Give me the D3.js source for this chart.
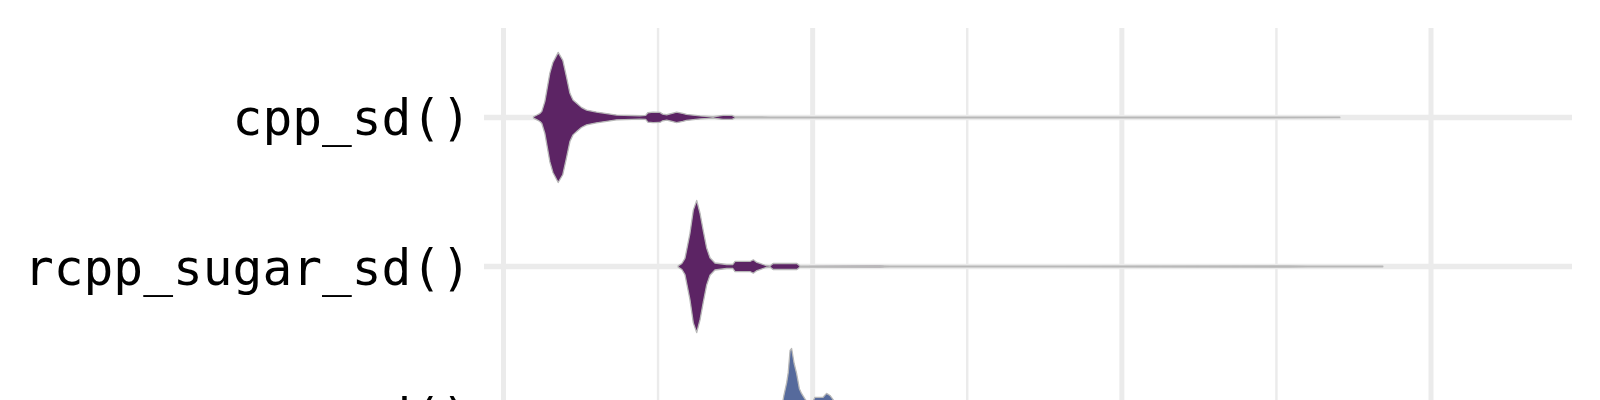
<!DOCTYPE html>
<html>
<head>
<meta charset="utf-8">
<script src="https://cdn.jsdelivr.net/npm/d3@7"></script>
<style>
  html, body { margin: 0; padding: 0; background: #ffffff; }
  svg { display: block; }
</style>
</head>
<body>
<svg id="chart" width="1600" height="400"></svg>
<script>
// ---- Data (time, relative density) ----
const categories = ["cpp_sd()", "rcpp_sugar_sd()", "sd()"];
const fillColors = ["#5c2464", "#5c2464", "#566a9c"];

const cppTime = [0.97, 1.10, 1.18, 1.24, 1.34, 1.50, 1.60, 1.77, 1.92, 2.04, 2.15, 2.25, 2.37, 2.52, 2.69, 3.01, 3.34, 3.66, 4.41, 4.60, 4.67, 4.84, 5.06, 5.15, 5.28, 5.45, 5.60, 5.80, 5.92, 6.36, 6.78, 7.10, 7.39, 7.49, 8.30, 8.62, 12.0, 20.0, 27.05];
const cppDens = [0.01, 0.04, 0.06, 0.09, 0.24, 0.66, 0.82, 0.97, 0.85, 0.60, 0.36, 0.26, 0.21, 0.15, 0.11, 0.08, 0.058, 0.035, 0.025, 0.03, 0.07, 0.078, 0.075, 0.05, 0.04, 0.06, 0.078, 0.06, 0.045, 0.022, 0.010, 0.03, 0.03, 0.008, 0.008, 0.006, 0.005, 0.005, 0.004];

const sugarTime = [5.65, 5.77, 5.87, 6.03, 6.14, 6.25, 6.36, 6.46, 6.57, 6.68, 6.84, 7.22, 7.42, 7.49, 7.97, 8.08, 8.20, 8.30, 8.49, 8.62, 8.72, 9.49, 9.59, 12.18, 12.50, 18.0, 25.44, 26.0, 28.44];
const sugarDens = [0.01, 0.045, 0.12, 0.49, 0.84, 0.985, 0.79, 0.54, 0.28, 0.13, 0.052, 0.03, 0.03, 0.075, 0.075, 0.10, 0.06, 0.045, 0.015, 0.008, 0.045, 0.045, 0.006, 0.010, 0.005, 0.005, 0.008, 0.005, 0.004];

const baseTime = [8.85, 8.97, 9.03, 9.07, 9.16, 9.21, 9.27, 9.32, 9.40, 9.48, 9.57, 9.64, 9.75, 9.85, 9.98, 10.07, 10.33, 10.45, 10.56, 10.72, 10.82, 10.98, 11.14, 11.53, 12.83, 16.06, 32.96];
const baseDens = [0.01, 0.06, 0.2, 0.3, 0.49, 0.64, 0.97, 1.0, 0.78, 0.63, 0.40, 0.33, 0.25, 0.18, 0.18, 0.27, 0.27, 0.33, 0.30, 0.2, 0.15, 0.22, 0.15, 0.1, 0.04, 0.015, 0.004];

const majorBreaks = [0, 10, 20, 30];
const minorBreaks = [5, 15, 25];

const seriesTimes = [cppTime, sugarTime, baseTime];
const seriesDens = [cppDens, sugarDens, baseDens];

// ---- Layout ----
const W = 1600, H = 400;
const panel = { left: 484, right: 1572, top: 28, bottom: 505 };

const svg = d3.select("#chart");
svg.append("rect").attr("width", W).attr("height", H).attr("fill", "#ffffff");

const allTimes = seriesTimes.flat();
const ext = d3.extent(allTimes);
const pad = (ext[1] - ext[0]) * 0.05;
const x = d3.scaleLinear().domain([ext[0] - pad, ext[1] + pad]).range([panel.left, panel.right]);

const y = d3.scalePoint().domain(categories).range([panel.top, panel.bottom]).padding(0.6);
const step = y.step();
const halfW = d3.scaleLinear().domain([0, 1]).range([0, step * 0.45]);

// Grid
const g = svg.append("g");
g.selectAll("line.minor").data(minorBreaks).join("line")
  .attr("x1", d => x(d)).attr("x2", d => x(d))
  .attr("y1", panel.top).attr("y2", panel.bottom)
  .attr("stroke", "#ebebeb").attr("stroke-width", 2.4);
g.selectAll("line.major").data(majorBreaks).join("line")
  .attr("x1", d => x(d)).attr("x2", d => x(d))
  .attr("y1", panel.top).attr("y2", panel.bottom)
  .attr("stroke", "#ebebeb").attr("stroke-width", 5);
g.selectAll("line.hmajor").data(categories).join("line")
  .attr("x1", panel.left).attr("x2", panel.right)
  .attr("y1", d => y(d)).attr("y2", d => y(d))
  .attr("stroke", "#ebebeb").attr("stroke-width", 5.5);

// Violins
categories.forEach((cat, i) => {
  const pts = seriesTimes[i].map((t, j) => ({ t, d: seriesDens[i][j] }));
  const cy = y(cat);
  const area = d3.area()
    .x(p => x(p.t))
    .y0(p => cy + halfW(p.d))
    .y1(p => cy - halfW(p.d))
    .curve(d3.curveLinear);
  svg.append("path")
    .datum(pts)
    .attr("d", area)
    .attr("fill", fillColors[i])
    .attr("stroke", "#b8b8b8")
    .attr("stroke-width", 1.3)
    .attr("stroke-linejoin", "round");
});

// Axis labels
svg.selectAll("text.ylab").data(categories).join("text")
  .attr("class", "ylab")
  .attr("x", 471)
  .attr("y", d => y(d))
  .attr("dy", 18)
  .attr("text-anchor", "end")
  .attr("font-family", "'DejaVu Sans Mono', monospace")
  .attr("font-size", 49.5)
  .attr("fill", "#000000")
  .text(d => d);
</script>
</body>
</html>
